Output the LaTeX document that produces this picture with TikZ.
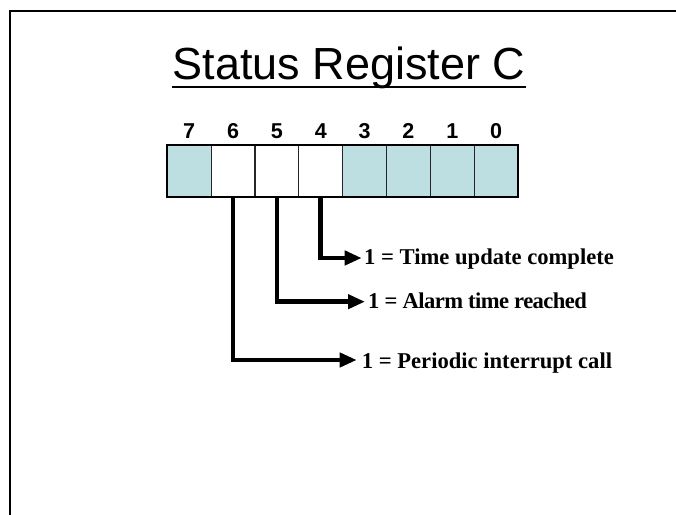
\documentclass[tikz,border=0pt]{standalone}
\usepackage{fontspec}
\setmainfont{Liberation Serif}
\newfontfamily\arialfont{Liberation Sans}
\usetikzlibrary{arrows.meta}
\definecolor{cellblue}{RGB}{189,223,225}
\tikzset{
  cell/.style={draw=black!85, line width=1.1pt, minimum width=43.84pt, minimum height=52pt, inner sep=0pt, outer sep=0pt},
  bitnum/.style={font=\arialfont\bfseries\fontsize{21.5}{24}\selectfont, inner sep=0pt, anchor=base},
  flag/.style={font=\bfseries\fontsize{22.6}{26}\selectfont, inner sep=0pt, anchor=base west},
  conn/.style={line width=4.5pt, -{Triangle[length=17pt,width=14pt]}, line join=miter}
}
\begin{document}
\begin{tikzpicture}[x=1pt,y=1pt]
\useasboundingbox (0,0) rectangle (676,514);
\fill[white] (0,0) rectangle (676,514);
% frame
\draw[line width=2pt] (10,-10) -- (10,503) -- (690,503);
% title
\node[font=\arialfont\fontsize{45}{50}\selectfont, inner sep=0pt, anchor=base] (title) at (349,434.7) {Status Register C};
\draw[line width=1.5pt] ([yshift=-7.7pt]title.base west) -- ([yshift=-7.7pt]title.base east);
% register cells
\foreach \b/\f in {7/cellblue,6/white,5/white,4/white,3/cellblue,2/cellblue,1/cellblue,0/cellblue}{
  \pgfmathsetmacro{\cx}{167.3+43.84*(7-\b)+21.92}
  \node[cell, fill=\f] (b\b) at (\cx,343) {};
  \node[bitnum] (n\b) at (\cx,375) {\b};
}
\draw[line width=2pt] (b7.north west) rectangle (b0.south east);
% arrow ends
\coordinate (t4) at (361.7,256);
\coordinate (t5) at (365,212.3);
\coordinate (t6) at (356.7,154);
\draw[conn] (b4.south) |- (t4);
\draw[conn] (b5.south) |- (t5);
\draw[conn] (b6.south) |- (t6);
% labels
\node[flag] (l4) at (364,249) {1 = Time update complete};
\node[flag] (l5) at (368,205) {\addfontfeature{LetterSpace=-2.5}1 = Alarm time reached};
\node[flag] (l6) at (361.7,145.7) {1 = Periodic interrupt call};
\end{tikzpicture}
\end{document}
